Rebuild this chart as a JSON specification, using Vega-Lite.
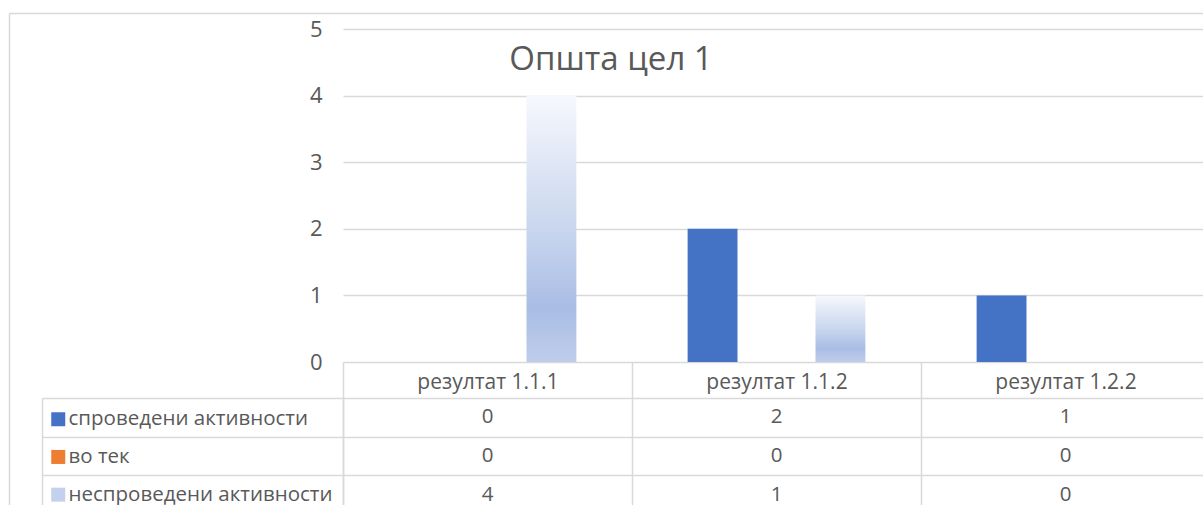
{
  "$schema": "https://vega.github.io/schema/vega-lite/v6.json",
  "width": 860,
  "height": 333,
  "autosize": {"type": "none"},
  "padding": {"left": 343, "top": 29, "right": 0, "bottom": 143},
  "background": "#ffffff",
  "config": {
    "view": {"stroke": null},
    "font": "Open Sans",
    "axis": {"labelFont": "Open Sans", "labelColor": "#595959", "title": null},
    "legend": {"labelFont": "Open Sans"}
  },
  "title": {
    "text": "Општа цел 1",
    "font": "Open Sans",
    "fontSize": 33,
    "fontWeight": "normal",
    "color": "#595959",
    "anchor": "middle",
    "frame": "group",
    "orient": "top",
    "offset": 0,
    "baseline": "alphabetic",
    "dx": -162,
    "dy": 96
  },
  "data": {
    "values": [
      {"category": "резултат 1.1.1", "series": "спроведени активности", "value": 0},
      {"category": "резултат 1.1.1", "series": "во тек", "value": 0},
      {"category": "резултат 1.1.1", "series": "неспроведени активности", "value": 4},
      {"category": "резултат 1.1.2", "series": "спроведени активности", "value": 2},
      {"category": "резултат 1.1.2", "series": "во тек", "value": 0},
      {"category": "резултат 1.1.2", "series": "неспроведени активности", "value": 1},
      {"category": "резултат 1.2.2", "series": "спроведени активности", "value": 1},
      {"category": "резултат 1.2.2", "series": "во тек", "value": 0},
      {"category": "резултат 1.2.2", "series": "неспроведени активности", "value": 0}
    ]
  },
  "resolve": {"scale": {"x": "independent", "y": "independent"}, "axis": {"x": "independent", "y": "independent"}},
  "layer": [
    {
      "mark": {"type": "bar"},
      "encoding": {
        "x": {
          "field": "category", "type": "nominal", "sort": null,
          "scale": {"range": [0, 867], "paddingInner": 0, "paddingOuter": 0},
          "axis": {
            "orient": "bottom", "domain": false, "ticks": true, "tickBand": "extent",
            "tickSize": 152, "tickColor": "#d9d9d9", "tickWidth": 1.5,
            "labelFontSize": 21, "labelPadding": -143, "labelAngle": 0, "grid": false
          }
        },
        "xOffset": {
          "field": "series", "type": "nominal", "sort": null,
          "scale": {"domain": ["спроведени активности", "во тек", "неспроведени активности"], "paddingInner": 0.22, "paddingOuter": 0.87}
        },
        "y": {
          "field": "value", "type": "quantitative",
          "scale": {"domain": [0, 5], "nice": false},
          "axis": {
            "orient": "left", "values": [0, 1, 2, 3, 4, 5], "domain": false, "ticks": false,
            "grid": true, "gridColor": "#d9d9d9", "gridWidth": 1.5,
            "labelFontSize": 22, "labelPadding": 21
          }
        },
        "color": {
          "condition": {
            "test": "datum.series === 'неспроведени активности'",
            "value": {"gradient": "linear", "x1": 0, "y1": 0, "x2": 0, "y2": 1,
              "stops": [
                {"offset": 0, "color": "#f6f8fd"},
                {"offset": 0.5, "color": "#c9d6ee"},
                {"offset": 0.8, "color": "#a9bde4"},
                {"offset": 1, "color": "#bfcdea"}
              ]}
          },
          "field": "series", "type": "nominal", "sort": null,
          "scale": {
            "domain": ["спроведени активности", "во тек", "неспроведени активности"],
            "range": ["#4472c4", "#ed7d31", "#c3d1ec"]
          },
          "legend": {
            "orient": "none", "legendX": -295, "legendY": 380, "direction": "vertical",
            "title": null, "symbolType": "square", "symbolSize": 196, "symbolStrokeWidth": 0,
            "labelFontSize": 20.5, "labelColor": "#595959", "rowPadding": 16.7, "labelOffset": 0,
            "labelLimit": 0, "padding": 0
          }
        }
      }
    },
    {
      "mark": {"type": "text", "fontSize": 20.5, "color": "#595959", "font": "Open Sans"},
      "encoding": {
        "x": {
          "field": "category", "type": "nominal", "sort": null,
          "scale": {"range": [0, 867], "paddingInner": 0, "paddingOuter": 0},
          "axis": null
        },
        "y": {
          "field": "series", "type": "nominal", "sort": null,
          "scale": {"domain": ["спроведени активности", "во тек", "неспроведени активности"], "range": [369, 485], "paddingInner": 0, "paddingOuter": 0},
          "axis": {
            "orient": "left", "domain": true, "domainColor": "#d9d9d9", "domainWidth": 1.5,
            "ticks": true, "tickBand": "extent", "tickSize": 301, "tickColor": "#d9d9d9", "tickWidth": 1.5,
            "grid": true, "gridColor": "#d9d9d9", "gridWidth": 1.5, "labels": false
          }
        },
        "text": {"field": "value", "type": "quantitative"}
      }
    },
    {
      "mark": {"type": "text", "opacity": 0},
      "encoding": {
        "y": {
          "field": "series", "type": "nominal", "sort": null,
          "scale": {"domain": ["спроведени активности", "во тек", "неспроведени активности"], "range": [369, 485], "paddingInner": 0, "paddingOuter": 0},
          "axis": {
            "orient": "left", "offset": 301, "domain": true, "domainColor": "#d9d9d9", "domainWidth": 1.5,
            "ticks": false, "grid": false, "labels": false
          }
        },
        "text": {"value": ""}
      }
    },
    {
      "mark": {"type": "text", "opacity": 0},
      "encoding": {
        "x": {
          "datum": 0, "type": "quantitative",
          "scale": {"domain": [0, 1], "range": [-334, 870]},
          "axis": {
            "orient": "top", "offset": 16, "domain": true, "domainColor": "#d9d9d9", "domainWidth": 1.5,
            "ticks": false, "grid": false, "labels": false
          }
        },
        "y": {
          "datum": 0, "type": "quantitative",
          "scale": {"domain": [0, 1], "range": [-16, 490]},
          "axis": {
            "orient": "left", "offset": 334, "domain": true, "domainColor": "#d9d9d9", "domainWidth": 1.5,
            "ticks": false, "grid": false, "labels": false
          }
        },
        "text": {"value": ""}
      }
    }
  ]
}
